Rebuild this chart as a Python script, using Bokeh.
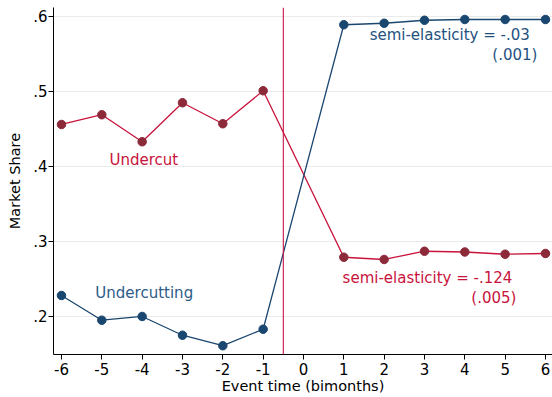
from bokeh.plotting import figure
from bokeh.models import Span, FixedTicker, Range1d
from bokeh.embed import file_html
from bokeh.resources import INLINE
from bokeh.core.properties import value

event_time = [-6, -5, -4, -3, -2, -1, 1, 2, 3, 4, 5, 6]
undercut = [0.456, 0.469, 0.433, 0.485, 0.457, 0.501, 0.279, 0.276, 0.287, 0.286, 0.283, 0.284]
undercutting = [0.228, 0.195, 0.200, 0.175, 0.161, 0.183, 0.589, 0.591, 0.595, 0.596, 0.596, 0.596]
y_ticks = [0.2, 0.3, 0.4, 0.5, 0.6]
y_tick_labels = [".2", ".3", ".4", ".5", ".6"]
x_ticks = list(range(-6, 7))
x_tick_labels = [str(t) for t in x_ticks]

RED = "#c8133c"
MAROON = "#8c2a3a"
BLUE = "#1a476f"
FONT = "DejaVu Sans"

p = figure(width=552, height=397, output_backend="svg", toolbar_location=None,
           x_range=Range1d(-6.198, 6.174), y_range=Range1d(0.1493, 0.612),
           min_border_left=53, min_border_right=0, min_border_top=7, min_border_bottom=43)
p.outline_line_color = None
p.xgrid.visible = False
p.ygrid.grid_line_color = "#ebebeb"
p.ygrid.grid_line_width = 1.2
p.ygrid.ticker = FixedTicker(ticks=y_ticks)

p.yaxis.ticker = FixedTicker(ticks=y_ticks)
p.yaxis.major_label_overrides = {t: l for t, l in zip(y_ticks, y_tick_labels)}
p.xaxis.ticker = FixedTicker(ticks=x_ticks)
p.xaxis.major_label_overrides = {t: l for t, l in zip(x_ticks, x_tick_labels)}
for ax in (p.xaxis, p.yaxis):
    ax.minor_tick_line_color = None
    ax.major_tick_out = 5
    ax.major_tick_in = 0
    ax.axis_line_color = "black"
    ax.major_tick_line_color = "black"
    ax.major_label_text_font = FONT
    ax.major_label_text_font_size = "15px"
    ax.major_label_text_color = "black"
    ax.axis_label_text_font = FONT
    ax.axis_label_text_font_size = "14.5px"
    ax.axis_label_text_font_style = "normal"
    ax.axis_label_text_color = "black"
p.xaxis.axis_label = "Event time (bimonths)"
p.yaxis.axis_label = "Market Share"
p.xaxis.axis_label_standoff = 0
p.yaxis.axis_label_standoff = 7
p.xaxis.major_label_standoff = 3
p.yaxis.major_label_standoff = 1

p.add_layout(Span(location=-0.5, dimension="height", line_color="#c8174a", line_width=1.1))

p.line(event_time, undercut, line_color=RED, line_width=1.3)
p.scatter(event_time, undercut, size=8.5, fill_color=MAROON, line_color=MAROON)
p.line(event_time, undercutting, line_color=BLUE, line_width=1.3)
p.scatter(event_time, undercutting, size=8.5, fill_color=BLUE, line_color=BLUE)

def label(x, y, t, color, align="left"):
    p.text([x], [y], text=[t], text_color=color, text_font=value(FONT),
           text_font_size="15px", text_align=align, text_baseline="middle")

label(-4.81, 0.4093, "Undercut", RED)
label(-5.16, 0.2307, "Undercutting", "#2c5c88")
label(1.64, 0.5747, "semi-elasticity = -.03", "#24527e")
label(5.80, 0.548, "(.001)", "#24527e", "right")
label(0.97, 0.2507, "semi-elasticity = -.124", RED)
label(5.28, 0.2253, "(.005)", RED, "right")

open("out.html", "w").write(file_html(p, INLINE))
